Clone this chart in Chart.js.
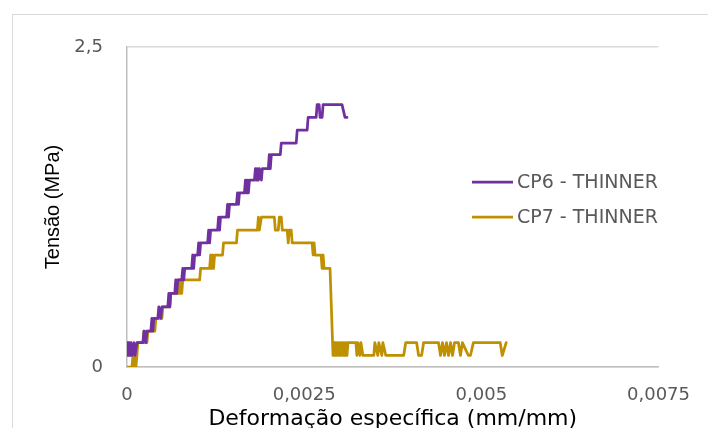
<!DOCTYPE html>
<html>
<head>
<meta charset="utf-8">
<script src="https://cdn.jsdelivr.net/npm/chart.js@4"></script>
<style>
  html, body { margin: 0; padding: 0; background: #fff; }
  canvas { display: block; }
</style>
</head>
<body>
<canvas id="chart" width="708" height="428"></canvas>
<script>
// ── data ──
const seriesNames = ['CP6 - THINNER', 'CP7 - THINNER'];
const seriesColors = ['#7030A0', '#BF9000'];

const xTicks = [0, 0.0025, 0.005, 0.0075];
const yTicks = [0, 2.5];

const cp6Strain = [
  0, 0.000014, 0.000028, 0.000042, 0.000056, 0.000070, 0.000098, 0.000112, 0.000140,
  0.000225, 0.000239, 0.000267, 0.000281, 0.000337, 0.000351, 0.000365, 0.000379,
  0.000435, 0.000449, 0.000478, 0.000492, 0.000576, 0.000590, 0.000604, 0.000618,
  0.000674, 0.000688, 0.000702, 0.000716, 0.000772, 0.000787, 0.000801, 0.000815,
  0.000913, 0.000927, 0.000941, 0.000955, 0.000997, 0.001011, 0.001025, 0.001039,
  0.001138, 0.001152, 0.001166, 0.001180, 0.001278, 0.001292, 0.001306, 0.001320,
  0.001405, 0.001419, 0.001433, 0.001447, 0.001545, 0.001559, 0.001573, 0.001587,
  0.001657, 0.001671, 0.001685, 0.001699, 0.001713, 0.001728,
  0.001798, 0.001812, 0.001826, 0.001840, 0.001854, 0.001868, 0.001896, 0.001910,
  0.001994, 0.002008, 0.002022, 0.002037, 0.002163, 0.002177, 0.002388, 0.002402,
  0.002542, 0.002556, 0.002669, 0.002683, 0.002711, 0.002725, 0.002753, 0.002767,
  0.003034, 0.003076, 0.003104
];
const cp6Stress = [
  0.19, 0.09, 0.19, 0.09, 0.19, 0.09, 0.19, 0.09, 0.19,
  0.19, 0.28, 0.19, 0.28, 0.28, 0.38, 0.28, 0.38,
  0.38, 0.47, 0.38, 0.47, 0.47, 0.575, 0.47, 0.575,
  0.575, 0.68, 0.575, 0.68, 0.68, 0.77, 0.68, 0.77,
  0.77, 0.875, 0.77, 0.875, 0.875, 0.97, 0.875, 0.97,
  0.97, 1.07, 0.97, 1.07, 1.07, 1.17, 1.07, 1.17,
  1.17, 1.27, 1.17, 1.27, 1.27, 1.36, 1.27, 1.36,
  1.36, 1.46, 1.36, 1.46, 1.36, 1.46,
  1.46, 1.55, 1.46, 1.55, 1.46, 1.55, 1.46, 1.55,
  1.55, 1.66, 1.55, 1.66, 1.66, 1.75, 1.75, 1.85,
  1.85, 1.95, 1.95, 2.05, 2.05, 1.95, 1.95, 2.05,
  2.05, 1.95, 1.95
];

const cp7Strain = [
  0, 0.000070, 0.000084, 0.000098, 0.000112, 0.000126, 0.000140, 0.000154,
  0.000225, 0.000239, 0.000253, 0.000267, 0.000281, 0.000295, 0.000393, 0.000407,
  0.000492, 0.000506, 0.000604, 0.000618, 0.000716, 0.000730, 0.000744, 0.000758,
  0.000772, 0.000787, 0.001025, 0.001039, 0.001166, 0.001180, 0.001194, 0.001208,
  0.001222, 0.001236, 0.001348, 0.001362, 0.001545, 0.001559, 0.001840, 0.001854,
  0.001868, 0.001896, 0.002079, 0.002093, 0.002135, 0.002149, 0.002177, 0.002191,
  0.002261, 0.002275, 0.002289, 0.002317, 0.002331, 0.002612, 0.002626, 0.002640,
  0.002654, 0.002739, 0.002753, 0.002767, 0.002781, 0.002865, 0.002907,
  0.002921, 0.002935, 0.002949, 0.002963, 0.002978, 0.002992, 0.003006, 0.003020,
  0.003034, 0.003048, 0.003062, 0.003076, 0.003090, 0.003104, 0.003118,
  0.003230, 0.003244, 0.003258, 0.003287, 0.003301, 0.003329, 0.003483, 0.003497,
  0.003539, 0.003553, 0.003596, 0.003610, 0.003652, 0.003904, 0.003933, 0.004087,
  0.004115, 0.004157, 0.004185, 0.004396, 0.004424, 0.004452, 0.004480, 0.004508,
  0.004537, 0.004565, 0.004593, 0.004621, 0.004677, 0.004705, 0.004733, 0.004817,
  0.004846, 0.004888, 0.005267, 0.005295, 0.005351
];
const cp7Stress = [
  0, 0, 0.09, 0, 0.09, 0, 0.09, 0.19,
  0.19, 0.28, 0.19, 0.28, 0.19, 0.28, 0.28, 0.38,
  0.38, 0.47, 0.47, 0.575, 0.575, 0.68, 0.575, 0.68,
  0.575, 0.68, 0.68, 0.77, 0.77, 0.875, 0.77, 0.875,
  0.77, 0.875, 0.875, 0.97, 0.97, 1.07, 1.07, 1.17,
  1.07, 1.17, 1.17, 1.07, 1.07, 1.17, 1.17, 1.07,
  1.07, 0.97, 1.07, 1.07, 0.97, 0.97, 0.875, 0.97,
  0.875, 0.875, 0.77, 0.875, 0.77, 0.77, 0.09,
  0.19, 0.09, 0.19, 0.09, 0.19, 0.09, 0.19, 0.09,
  0.19, 0.09, 0.19, 0.09, 0.19, 0.09, 0.19,
  0.19, 0.09, 0.19, 0.09, 0.19, 0.09, 0.09, 0.19,
  0.09, 0.19, 0.09, 0.19, 0.09, 0.09, 0.19, 0.19,
  0.09, 0.09, 0.19, 0.19, 0.09, 0.19, 0.09, 0.19,
  0.09, 0.19, 0.09, 0.19, 0.19, 0.09, 0.19, 0.09,
  0.09, 0.19, 0.19, 0.09, 0.19
];

// ── helpers ──
const toPoints = (xs, ys) => xs.map((x, i) => ({ x: x, y: ys[i] }));
const comma = v => String(v).replace('.', ',');

const tickFont = { family: 'DejaVu Sans', size: 18 };
const tickColor = '#595959';
const axisColor = '#BFBFBF';
const gridColor = '#D9D9D9';

// outer frame + legend drawn by hand
const framePlugin = {
  id: 'frame',
  beforeDraw(chart) {
    const ctx = chart.ctx;
    ctx.save();
    ctx.strokeStyle = gridColor;
    ctx.lineWidth = 1;
    ctx.strokeRect(12.5, 14.5, 900, 600);
    ctx.restore();
  },
  afterDraw(chart) {
    const ctx = chart.ctx;
    ctx.save();
    ctx.font = '19px "DejaVu Sans"';
    ctx.textBaseline = 'middle';
    ctx.fillStyle = tickColor;
    chart.data.datasets.forEach((ds, i) => {
      const y = 182 + i * 35;
      ctx.strokeStyle = ds.borderColor;
      ctx.lineWidth = 2.75;
      ctx.beginPath();
      ctx.moveTo(472, y);
      ctx.lineTo(513, y);
      ctx.stroke();
      ctx.fillText(ds.label, 517, y + 1);
    });
    ctx.restore();
  }
};

const lineStyle = {
  borderWidth: 2.75,
  borderJoinStyle: 'round',
  borderCapStyle: 'round',
  pointRadius: 0,
  tension: 0
};

new Chart(document.getElementById('chart'), {
  type: 'line',
  data: {
    datasets: [
      Object.assign({
        label: seriesNames[0],
        data: toPoints(cp6Strain, cp6Stress),
        borderColor: seriesColors[0]
      }, lineStyle),
      Object.assign({
        label: seriesNames[1],
        data: toPoints(cp7Strain, cp7Stress),
        borderColor: seriesColors[1]
      }, lineStyle)
    ]
  },
  options: {
    responsive: false,
    animation: false,
    layout: { padding: { left: 0, top: 47, right: 48, bottom: 0 } },
    plugins: {
      legend: { display: false },
      tooltip: { enabled: false }
    },
    scales: {
      x: {
        type: 'linear',
        min: 0,
        max: 0.0075,
        afterBuildTicks: s => { s.ticks = xTicks.map(v => ({ value: v })); },
        afterFit: s => { s.height = 61; },
        grid: { color: 'rgba(0,0,0,0)', drawTicks: false },
        border: { display: true, color: axisColor, width: 1.5 },
        ticks: { font: tickFont, color: tickColor, padding: 18, maxRotation: 0, callback: v => comma(v) },
        title: {
          display: true,
          text: 'Deformação específica (mm/mm)',
          color: '#000',
          font: { family: 'DejaVu Sans', size: 22, lineHeight: 0.8 },
          padding: 0
        }
      },
      y: {
        min: 0,
        max: 2.5,
        afterBuildTicks: s => { s.ticks = yTicks.map(v => ({ value: v })); },
        afterFit: s => { s.width = 127; },
        grid: { color: gridColor, drawTicks: false, lineWidth: 1.5 },
        border: { display: true, color: axisColor, width: 1.5 },
        ticks: { font: tickFont, color: tickColor, padding: 24, callback: v => comma(v) },
        title: {
          display: true,
          text: 'Tensão (MPa)',
          color: '#000',
          font: { family: 'Liberation Sans', size: 20 },
          padding: { top: 41, bottom: 0 }
        }
      }
    }
  },
  plugins: [framePlugin]
});
</script>
</body>
</html>
